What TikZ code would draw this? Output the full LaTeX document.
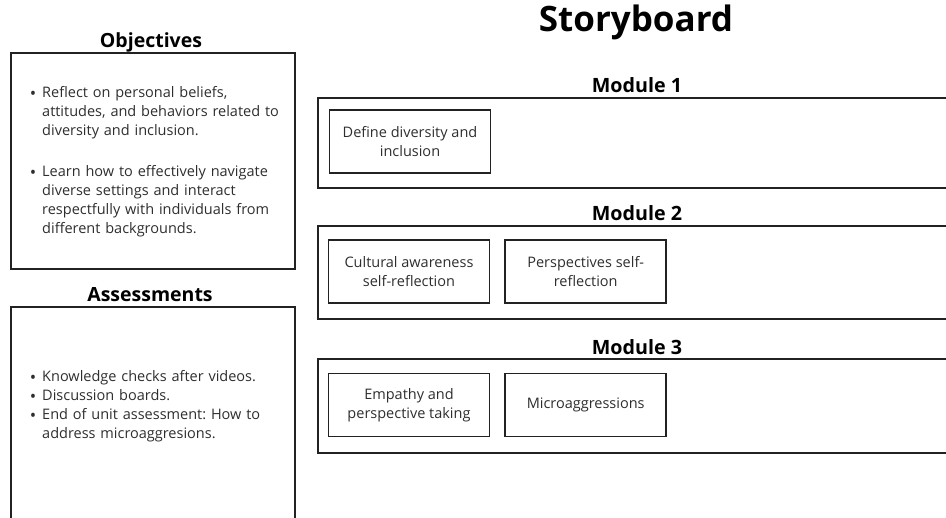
\documentclass[tikz,border=0pt]{standalone}
\usepackage{fontspec}
\setmainfont{Open Sans}
\usepackage{enumitem}
\usetikzlibrary{positioning}
\definecolor{inkgray}{HTML}{222222}
\definecolor{textgray}{HTML}{2E2E2E}
\frenchspacing
\newcommand{\dotmark}{\raisebox{-2pt}{\fontsize{17}{18}\selectfont\textbullet}}

\begin{document}
\begin{tikzpicture}[
  x=1pt, y=-1pt,
  every node/.style={inner sep=0pt},
  frame/.style={draw=inkgray, line width=1.7pt},
  panel/.style={frame, anchor=north west, minimum width=284pt},
  modframe/.style={frame, anchor=north west, minimum width=640pt},
  topicbox/.style={frame, minimum width=161pt, minimum height=63pt, align=center, text=textgray, font=\fontsize{14.5}{19}\selectfont},
  heading/.style={font=\bfseries\fontsize{19.5}{21}\selectfont},
  modhead/.style={font=\bfseries\fontsize{19.7}{21}\selectfont},
  bullets/.style={anchor=north west, text width=272pt, align=left, text=textgray, font=\fontsize{14.5}{19}\selectfont},
]
\useasboundingbox (0,0) rectangle (946,518);

\node[font=\bfseries\fontsize{35}{37}\selectfont] (title) at (636,22) {Storyboard};

% Left column
\node[panel, minimum height=216pt] (obj) at (10,52) {};
\node[heading] (objhead) at (151,42) {Objectives};
\node[bullets] (objlist) at (19,78) {%
  \begin{itemize}[leftmargin=23pt, labelsep=6pt, itemsep=22pt, topsep=0pt, parsep=0pt, label=\dotmark]
    \item Reflect on personal beliefs,\\ attitudes, and behaviors related to\\ diversity and inclusion.
    \item Learn how to effectively navigate\\ diverse settings and interact\\ respectfully with individuals from\\ different backgrounds.
  \end{itemize}};

\node[panel, minimum height=222pt] (assess) at (10,306) {};
\node[heading] (assesshead) at (150,295) {Assessments};
\node[bullets] (assesslist) at (19,362) {%
  \begin{itemize}[leftmargin=23pt, labelsep=6pt, itemsep=0pt, topsep=0pt, parsep=0pt, label=\dotmark]
    \item Knowledge checks after videos.
    \item Discussion boards.
    \item End of unit assessment: How to\\ address microaggresions.
  \end{itemize}};

% Modules
\node[modframe, minimum height=90pt] (mod1) at (317,97) {};
\node[modhead] (mod1head) at (637,85) {Module 1};
\node[topicbox] (define) at (410,141.5) {Define diversity and\\inclusion};

\node[modframe, minimum height=93pt] (mod2) at (317,225) {};
\node[modhead] (mod2head) at (637,213) {Module 2};
\node[topicbox] (cultural) at (409,271.5) {Cultural awareness\\self-reflection};
\node[topicbox, right=14pt of cultural] (persp) {Perspectives self-\\reflection};

\node[modframe, minimum height=94pt] (mod3) at (317,358) {};
\node[modhead] (mod3head) at (637,347) {Module 3};
\node[topicbox] (empathy) at (409,405) {Empathy and\\perspective taking};
\node[topicbox, right=14pt of empathy] (micro) {Microaggressions};

\end{tikzpicture}
\end{document}
